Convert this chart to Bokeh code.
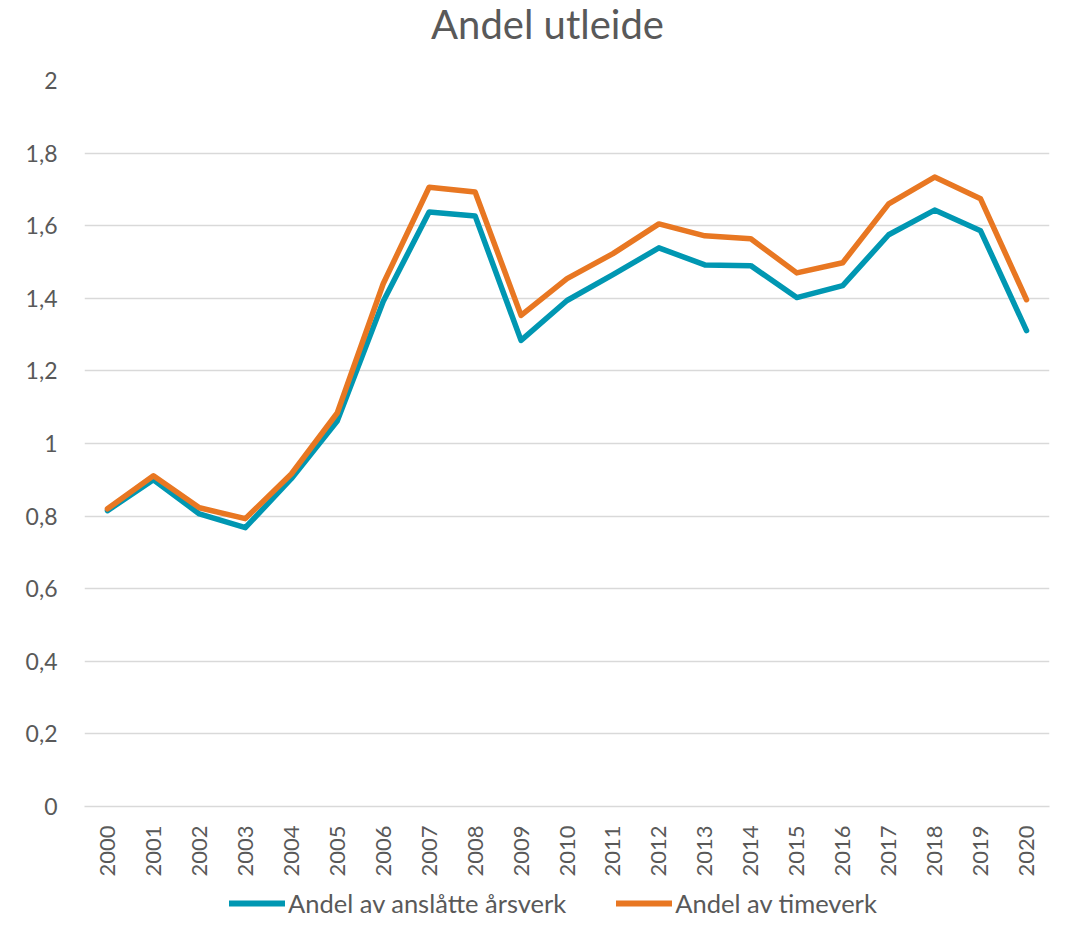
from bokeh.plotting import figure
from bokeh.layouts import column
from bokeh.models import Range1d, FixedTicker, CustomJSTickFormatter, Legend, LegendItem, Label
from bokeh.embed import file_html
from bokeh.resources import INLINE
import math

years = [str(y) for y in range(2000, 2021)]
arsverk = [0.815, 0.900, 0.806, 0.768, 0.903, 1.062, 1.391, 1.638, 1.627, 1.284, 1.394,
           1.465, 1.539, 1.492, 1.490, 1.402, 1.435, 1.575, 1.643, 1.586, 1.311]
timeverk = [0.820, 0.911, 0.823, 0.793, 0.916, 1.084, 1.440, 1.706, 1.693, 1.353, 1.454,
            1.523, 1.605, 1.572, 1.564, 1.470, 1.498, 1.660, 1.734, 1.674, 1.396]
y_ticks = [0, 0.2, 0.4, 0.6, 0.8, 1.0, 1.2, 1.4, 1.6, 1.8, 2.0]
series_names = ["Andel av anslåtte årsverk", "Andel av timeverk"]
chart_title = "Andel utleide"

FONT = "Lato"
TXT = "#595959"
BLUE = "#0097B2"
ORANGE = "#E87722"
W = 1052
BL, BR = 84, 3

# --- title strip ---
pt = figure(width=W, height=62, x_range=Range1d(BL, W - BR), y_range=Range1d(0, 62), title=None,
            output_backend="svg", toolbar_location=None,
            x_axis_location=None, y_axis_location=None,
            min_border_left=BL, min_border_right=BR, min_border_top=0, min_border_bottom=0)
pt.outline_line_color = None
pt.grid.grid_line_color = None
pt.add_layout(Label(x=547, y=39, text=chart_title, text_font=FONT, text_font_size="40px",
                    text_color=TXT, text_align="center", text_baseline="middle"))

# --- main chart ---
p = figure(width=W, height=820, x_range=years, y_range=Range1d(0, 2), title=None,
           output_backend="svg", toolbar_location=None,
           min_border_left=BL, min_border_right=BR, min_border_top=18, min_border_bottom=76)
p.outline_line_color = None

p.line(years, arsverk, line_color=BLUE, line_width=5.5, line_join="round", line_cap="round")
p.line(years, timeverk, line_color=ORANGE, line_width=5.5, line_join="round", line_cap="round")

p.yaxis.ticker = FixedTicker(ticks=y_ticks)
p.yaxis.formatter = CustomJSTickFormatter(code="return String(Math.round(tick*10)/10).replace('.', ',');")
p.yaxis.axis_line_color = None
p.yaxis.major_tick_line_color = None
p.yaxis.minor_tick_line_color = None
p.yaxis.major_tick_out = 0
p.yaxis.major_tick_in = 0
p.yaxis.major_label_text_font = FONT
p.yaxis.major_label_text_font_size = "23px"
p.yaxis.major_label_text_color = TXT
p.yaxis.major_label_standoff = 27

p.xaxis.axis_line_color = "#D9D9D9"
p.xaxis.axis_line_width = 1.5
p.xaxis.major_tick_line_color = None
p.xaxis.minor_tick_line_color = None
p.xaxis.major_tick_out = 0
p.xaxis.major_tick_in = 0
p.xaxis.major_label_orientation = math.pi / 2
p.xaxis.major_label_text_font = FONT
p.xaxis.major_label_text_font_size = "22px"
p.xaxis.major_label_text_color = TXT
p.xaxis.major_label_standoff = 19

p.xgrid.grid_line_color = None
p.ygrid.grid_line_color = "#D9D9D9"
p.ygrid.grid_line_width = 1.5

# --- legend strip ---
pl = figure(width=W, height=40, x_range=years, y_range=Range1d(10, 11), title=None,
            output_backend="svg", toolbar_location=None,
            x_axis_location=None, y_axis_location=None,
            min_border_left=BL, min_border_right=BR, min_border_top=0, min_border_bottom=0)
pl.outline_line_color = None
pl.grid.grid_line_color = None
l1 = pl.line(years, arsverk, line_color=BLUE, line_width=6, line_cap="round")
l2 = pl.line(years, timeverk, line_color=ORANGE, line_width=6, line_cap="round")
legend = Legend(items=[LegendItem(label=series_names[0], renderers=[l1]),
                       LegendItem(label=series_names[1], renderers=[l2])],
                orientation="horizontal", location=(229 - BL, 4),
                label_text_font=FONT, label_text_font_size="25.5px", label_text_color=TXT,
                glyph_width=56, glyph_height=20, label_standoff=3, spacing=50,
                border_line_color=None, background_fill_alpha=0, padding=0, margin=0)
pl.add_layout(legend, "center")

layout = column(pt, p, pl, spacing=0)
open("out.html", "w").write(file_html(layout, INLINE))
